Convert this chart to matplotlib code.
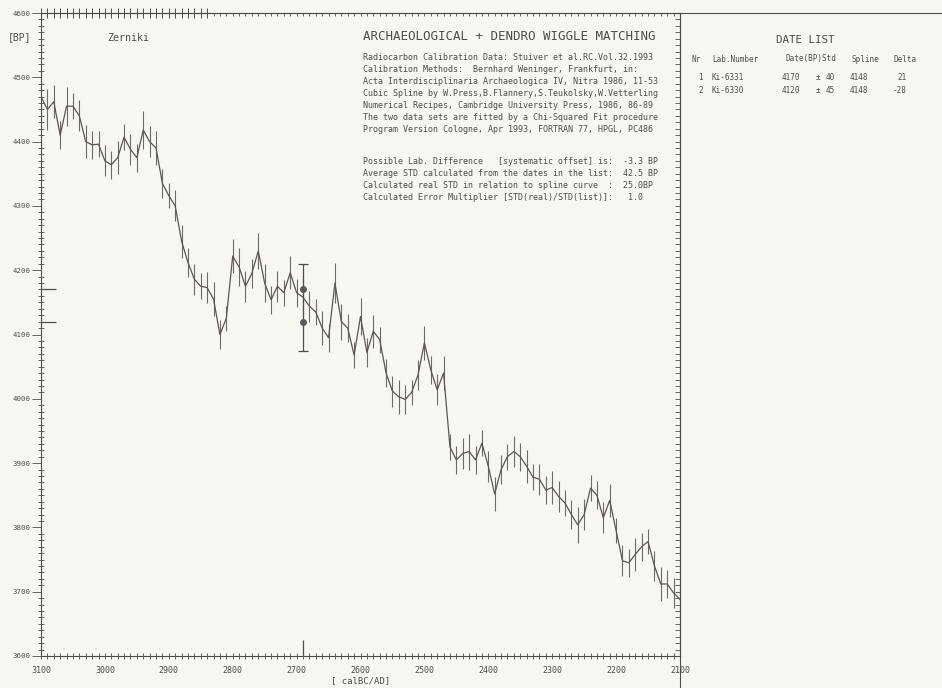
import numpy as np
import matplotlib
matplotlib.use('Agg')
import matplotlib.pyplot as plt
from matplotlib.ticker import MultipleLocator, FixedLocator
from matplotlib.lines import Line2D

# calibration curve (decadal, calBC)
years = list(range(3100, 2090, -10))
bp = [4470, 4450, 4462, 4410, 4455, 4455, 4440, 4400, 4395, 4396,
      4370, 4364, 4375, 4407, 4388, 4375, 4418, 4400, 4390, 4335,
      4316, 4300, 4245, 4212, 4186, 4175, 4173, 4155, 4100, 4125,
      4222, 4205, 4175, 4195, 4230, 4180, 4154, 4175, 4165, 4196,
      4165, 4158, 4144, 4135, 4110, 4095, 4180, 4120, 4110, 4068,
      4128, 4072, 4105, 4092, 4040, 4012, 4003, 3999, 4010, 4037,
      4087, 4045, 4014, 4040, 3925, 3905, 3915, 3918, 3905, 3931,
      3895, 3852, 3890, 3910, 3918, 3910, 3895, 3878, 3875, 3858,
      3862, 3848, 3838, 3820, 3804, 3820, 3861, 3850, 3815, 3842,
      3795, 3748, 3745, 3758, 3770, 3778, 3740, 3712, 3712, 3698,
      3688]
errs = [24, 32, 26, 22, 30, 20, 24, 26, 22, 20,
        24, 22, 26, 20, 24, 22, 30, 24, 26, 22,
        20, 24, 26, 22, 24, 20, 24, 26, 22, 20,
        26, 30, 24, 22, 28, 30, 22, 24, 20, 26,
        22, 30, 24, 20, 26, 22, 31, 28, 22, 20,
        28, 22, 26, 20, 22, 24, 26, 22, 20, 24,
        26, 22, 24, 26, 20, 22, 24, 28, 22, 20,
        24, 26, 22, 20, 24, 22, 26, 20, 24, 22,
        26, 24, 20, 22, 28, 24, 20, 22, 24, 26,
        20, 24, 22, 26, 22, 20, 24, 26, 22, 24,
        20]

# dates of the matched sample
labs = ['Ki-6331', 'Ki-6330']
dates = [4170, 4120]
stds = [40, 45]
spline = [4148, 4148]
delta = [21, -28]
match_year = 2690

xticks = list(range(3100, 2099, -100))
yticks = list(range(3600, 4601, 100))

info = ['Radiocarbon Calibration Data: Stuiver et al.RC.Vol.32.1993',
        'Calibration Methods:  Bernhard Weninger, Frankfurt, in:',
        'Acta Interdisciplinaria Archaeologica IV, Nitra 1986, 11-53',
        'Cubic Spline by W.Press,B.Flannery,S.Teukolsky,W.Vetterling',
        'Numerical Recipes, Cambridge University Press, 1986, 86-89',
        'The two data sets are fitted by a Chi-Squared Fit procedure',
        'Program Version Cologne, Apr 1993, FORTRAN 77, HPGL, PC486']
stats = ['Possible Lab. Difference   [systematic offset] is:  -3.3 BP',
         'Average STD calculated from the dates in the list:  42.5 BP',
         'Calculated real STD in relation to spline curve  :  25.0BP',
         'Calculated Error Multiplier [STD(real)/STD(list)]:   1.0']

W, H = 942, 688
bg = '#f6f7ee'
ink = '#4d4d4a'
mono = 'DejaVu Sans Mono'

def fx(x):
    return x / W

def fy(y):
    return 1 - y / H

fig = plt.figure(figsize=(9.42, 6.88), dpi=100, facecolor=bg)
ax = fig.add_axes([fx(41), fy(656), (680 - 41) / W, (656 - 13) / H])
ax.set_facecolor(bg)
ax.set_xlim(3100, 2100)
ax.set_ylim(3600, 4600)

ax.errorbar(years, bp, yerr=errs, fmt='-', color='#5f5553', lw=0.9,
            ecolor='#6a6a66', elinewidth=0.8, capsize=0)

# wiggle matched dates
lo = min(d - s for d, s in zip(dates, stds))
hi = max(d + s for d, s in zip(dates, stds))
ax.vlines(match_year, lo, hi, color=ink, lw=0.9)
ax.plot([match_year, match_year], [lo, hi], '_', ms=7, color=ink, mew=0.9)
ax.plot([match_year] * len(dates), dates, 'o', ms=4, color='#5a5a58')
ax.hlines(dates, 3100, 3077, color=ink, lw=0.9)
ax.vlines(match_year, 3600, 3625, color=ink, lw=0.9)

for s in ax.spines.values():
    s.set_color(ink)
    s.set_linewidth(0.8)

ax.xaxis.set_major_locator(FixedLocator(xticks))
ax.xaxis.set_minor_locator(MultipleLocator(10))
ax.yaxis.set_major_locator(FixedLocator(yticks))
ax.yaxis.set_minor_locator(MultipleLocator(10))
ax.tick_params(axis='x', which='both', direction='inout', length=4.5,
               width=0.6, color=ink, labelsize=6, labelcolor=ink, pad=5)
ax.tick_params(axis='y', which='major', direction='out', length=6.5,
               width=0.6, color=ink, labelsize=5.3, labelcolor=ink, pad=1)
ax.tick_params(axis='y', which='minor', direction='inout', length=4.5,
               width=0.6, color=ink)
for lab in ax.get_xticklabels() + ax.get_yticklabels():
    lab.set_family(mono)

sy = ax.secondary_yaxis('right')
sy.yaxis.set_major_locator(FixedLocator(yticks))
sy.yaxis.set_minor_locator(MultipleLocator(10))
sy.tick_params(which='both', direction='in', length=3.5, width=0.6,
               color=ink, labelright=False)
sy.spines['right'].set_color(ink)
sy.spines['right'].set_linewidth(0.8)

sx = ax.secondary_xaxis('top')
sx.xaxis.set_major_locator(FixedLocator(list(range(3100, 2835, -10))))
sx.xaxis.set_minor_locator(FixedLocator(list(range(2830, 2099, -10))))
sx.tick_params(which='major', direction='inout', length=7, width=0.7,
               color=ink, labeltop=False)
sx.tick_params(which='minor', direction='in', length=2.5, width=0.6,
               color=ink)
sx.spines['top'].set_color(ink)
sx.spines['top'].set_linewidth(0.8)

# frame lines reaching into the date list panel
fig.add_artist(Line2D([fx(680), 1], [fy(13), fy(13)], color=ink, lw=0.8))
fig.add_artist(Line2D([fx(680), fx(680)], [fy(656), 0], color=ink, lw=0.8))

ax.set_xlabel('[ calBC/AD]', family=mono, fontsize=6.5, color=ink,
              labelpad=1)

fig.text(fx(8), fy(37), '[BP]', family=mono, fontsize=7, color=ink,
         va='center')
fig.text(fx(107), fy(38), 'Zerniki', family=mono, fontsize=7.2, color=ink,
         va='center')
fig.text(fx(363), fy(37), 'ARCHAEOLOGICAL + DENDRO WIGGLE MATCHING',
         family=mono, fontsize=9, color=ink, va='center')
for i, t in enumerate(info):
    fig.text(fx(363), fy(58 + 12 * i), t, family=mono, fontsize=6.0,
             color=ink, va='center')
for i, t in enumerate(stats):
    fig.text(fx(363), fy(161 + 12.3 * i), t, family=mono, fontsize=6.0,
             color=ink, va='center')

# date list panel
fig.text(fx(805), fy(40), 'DATE LIST', family=mono, fontsize=7.8,
         color=ink, ha='center', va='center')
hdr = [(692, 'Nr'), (712, 'Lab.Number'), (785, 'Date(BP)Std'),
       (852, 'Spline'), (893, 'Delta')]
for x, t in hdr:
    fig.text(fx(x), fy(59), t, family=mono, fontsize=5.5, color=ink,
             va='center')
for i in range(len(labs)):
    y = fy(77 + 13.5 * i)
    kw = dict(family=mono, fontsize=5.5, color=ink, va='center')
    fig.text(fx(703), y, str(i + 1), ha='right', **kw)
    fig.text(fx(712), y, labs[i], **kw)
    fig.text(fx(800), y, str(dates[i]), ha='right', **kw)
    fig.text(fx(816), y, '±', **kw)
    fig.text(fx(835), y, str(stds[i]), ha='right', **kw)
    fig.text(fx(868), y, str(spline[i]), ha='right', **kw)
    fig.text(fx(907), y, str(delta[i]), ha='right', **kw)

fig.savefig('out.png', dpi=100, facecolor=bg)
